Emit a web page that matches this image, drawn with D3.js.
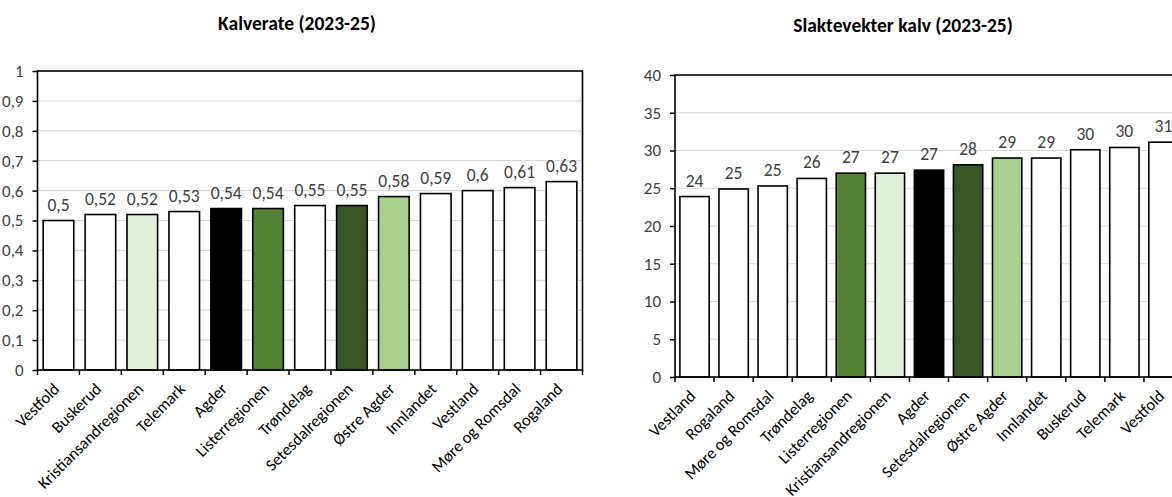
<!DOCTYPE html>
<html>
<head>
<meta charset="utf-8">
<script src="https://cdn.jsdelivr.net/npm/d3@7"></script>
<style>
  html, body { margin: 0; padding: 0; background: #fff; }
  svg { display: block; }
  text { font-family: Calibri, Carlito, Lato, "Liberation Sans", sans-serif; }
</style>
</head>
<body>
<svg id="chart" width="1172" height="497"></svg>
<script>
// ---- Data: Kalverate (2023-25)
const calvingCategories = ["Vestfold", "Buskerud", "Kristiansandregionen", "Telemark", "Agder", "Listerregionen", "Trøndelag", "Setesdalregionen", "Østre Agder", "Innlandet", "Vestland", "Møre og Romsdal", "Rogaland"];
const calvingValues = [0.50, 0.52, 0.52, 0.53, 0.54, 0.54, 0.55, 0.55, 0.58, 0.59, 0.60, 0.61, 0.63];
const calvingTicks = [0, 0.1, 0.2, 0.3, 0.4, 0.5, 0.6, 0.7, 0.8, 0.9, 1];

// ---- Data: Slaktevekter kalv (2023-25)
const weightCategories = ["Vestland", "Rogaland", "Møre og Romsdal", "Trøndelag", "Listerregionen", "Kristiansandregionen", "Agder", "Setesdalregionen", "Østre Agder", "Innlandet", "Buskerud", "Telemark", "Vestfold"];
const weightValues = [23.9, 24.9, 25.3, 26.3, 27.0, 27.0, 27.4, 28.1, 29.0, 29.0, 30.1, 30.4, 31.1];
const weightTicks = [0, 5, 10, 15, 20, 25, 30, 35, 40];

// ---- Highlight colours per region
const regionColors = {
  "Agder": "#000000",
  "Listerregionen": "#548235",
  "Setesdalregionen": "#375623",
  "Østre Agder": "#a9d08e",
  "Kristiansandregionen": "#e2efda"
};

const svg = d3.select("#chart");
const commaFmt = v => String(v).replace(".", ",");

function drawChart(cfg) {
  const g = svg.append("g");
  const x = d3.scaleBand().domain(cfg.categories).range([cfg.x0, cfg.x1])
    .paddingInner(cfg.pad).paddingOuter(cfg.pad / 2);
  const y = d3.scaleLinear().domain([0, cfg.max]).range([cfg.y0, cfg.y1]);

  // title
  g.append("text").attr("x", cfg.titleX).attr("y", cfg.titleY)
    .attr("text-anchor", "middle").attr("font-size", 19.5).attr("font-weight", "bold")
    .attr("fill", "#000").text(cfg.title);

  // gridlines
  g.append("g").selectAll("line").data(cfg.ticks.filter(t => t > 0 && t < cfg.max)).join("line")
    .attr("x1", cfg.x0).attr("x2", cfg.x1)
    .attr("y1", d => y(d)).attr("y2", d => y(d))
    .attr("stroke", "#d9d9d9").attr("stroke-width", 1.2);

  // bars
  const data = cfg.categories.map((c, i) => ({ c, v: cfg.values[i] }));
  g.append("g").selectAll("rect").data(data).join("rect")
    .attr("x", d => x(d.c)).attr("width", x.bandwidth())
    .attr("y", d => y(d.v)).attr("height", d => y(0) - y(d.v))
    .attr("fill", d => regionColors[d.c] || "#ffffff")
    .attr("stroke", "#000").attr("stroke-width", 1.6);

  // data labels
  g.append("g").selectAll("text").data(data).join("text")
    .attr("x", d => x(d.c) + x.bandwidth() / 2)
    .attr("y", d => y(d.v) - 10)
    .attr("text-anchor", "middle").attr("font-size", 17.5).attr("fill", "#404040")
    .text(d => cfg.labelFmt(d.v));

  // y axis
  const yAxis = g.append("g").attr("transform", `translate(${cfg.x0},0)`)
    .call(d3.axisLeft(y).tickValues(cfg.ticks).tickSize(5).tickPadding(9).tickFormat(cfg.tickFmt));
  yAxis.select(".domain").remove();
  yAxis.selectAll(".tick line").attr("stroke", "#000").attr("stroke-width", 1.5);
  yAxis.selectAll(".tick text").attr("font-size", 17).attr("fill", "#404040")
    .style("font-family", "Calibri, Carlito, Lato, sans-serif");

  // x axis ticks at band boundaries
  const bounds = cfg.categories.map(c => x(c) - x.step() * cfg.pad / 2).concat([cfg.x1]);
  g.append("g").selectAll("line").data(bounds).join("line")
    .attr("x1", d => d).attr("x2", d => d)
    .attr("y1", cfg.y0).attr("y2", cfg.y0 + 5)
    .attr("stroke", "#000").attr("stroke-width", 1.5);

  // x labels
  g.append("g").selectAll("text").data(cfg.categories).join("text")
    .attr("transform", d => `translate(${x(d) + x.bandwidth() / 2 + 2},${cfg.y0 + 20}) rotate(-45)`)
    .attr("text-anchor", "end").attr("font-size", 16.5).attr("fill", "#000")
    .text(d => d);

  // plot border
  g.append("rect").attr("x", cfg.x0).attr("y", cfg.y1)
    .attr("width", cfg.x1 - cfg.x0).attr("height", cfg.y0 - cfg.y1)
    .attr("fill", "none").attr("stroke", "#000").attr("stroke-width", 1.6);
}

drawChart({
  title: "Kalverate (2023-25)", titleX: 297, titleY: 30,
  categories: calvingCategories, values: calvingValues, ticks: calvingTicks, max: 1,
  x0: 37.5, x1: 582.5, y0: 370, y1: 71, pad: 0.27,
  labelFmt: v => commaFmt(+v.toFixed(2)),
  tickFmt: v => commaFmt(+v.toFixed(1))
});

drawChart({
  title: "Slaktevekter kalv (2023-25)", titleX: 903, titleY: 32,
  categories: weightCategories, values: weightValues, ticks: weightTicks, max: 40,
  x0: 675, x1: 1183, y0: 377, y1: 75, pad: 0.25,
  labelFmt: v => d3.format(".0f")(v),
  tickFmt: v => String(v)
});
</script>
</body>
</html>
